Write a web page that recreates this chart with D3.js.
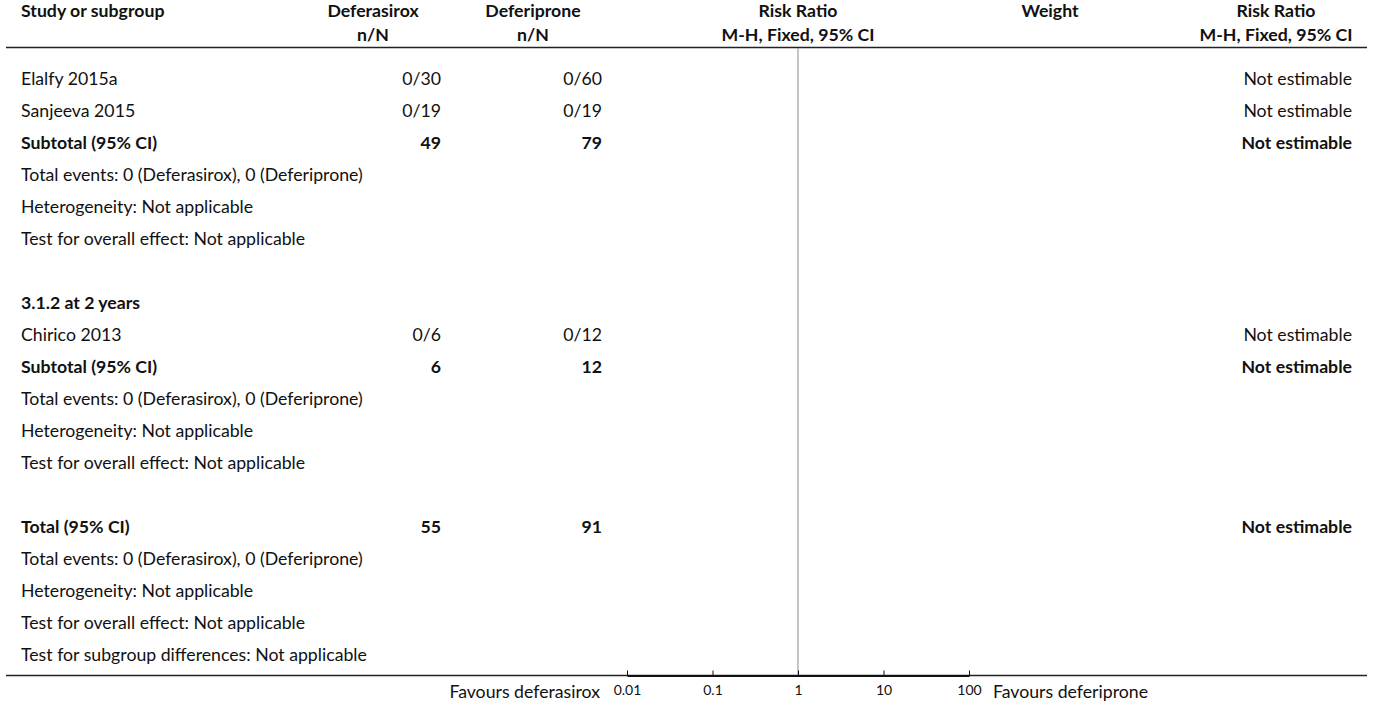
<!DOCTYPE html>
<html>
<head>
<meta charset="utf-8">
<script src="https://cdn.jsdelivr.net/npm/d3@7/dist/d3.min.js"></script>
<style>
  html, body { margin: 0; padding: 0; background: #fff; }
  svg { display: block; }
  text { font-family: "Source Sans Pro", Lato, "Noto Sans", sans-serif; fill: #111; }
</style>
</head>
<body>
<svg id="chart" width="1375" height="707"></svg>
<script>
// ---- data ----
const headerTop = ["Study or subgroup", "Deferasirox", "Deferiprone", "Risk Ratio", "Weight", "Risk Ratio"];
const headerSub = ["", "n/N", "n/N", "M-H, Fixed, 95% CI", "", "M-H, Fixed, 95% CI"];

const rowLabels = [
  "Elalfy 2015a", "Sanjeeva 2015", "Subtotal (95% CI)",
  "Total events: 0 (Deferasirox), 0 (Deferiprone)",
  "Heterogeneity: Not applicable", "Test for overall effect: Not applicable", "",
  "3.1.2 at 2 years", "Chirico 2013", "Subtotal (95% CI)",
  "Total events: 0 (Deferasirox), 0 (Deferiprone)",
  "Heterogeneity: Not applicable", "Test for overall effect: Not applicable", "",
  "Total (95% CI)",
  "Total events: 0 (Deferasirox), 0 (Deferiprone)",
  "Heterogeneity: Not applicable", "Test for overall effect: Not applicable",
  "Test for subgroup differences: Not applicable"
];
const rowDeferasirox = ["0/30", "0/19", "49", "", "", "", "", "", "0/6", "6", "", "", "", "", "55", "", "", "", ""];
const rowDeferiprone = ["0/60", "0/19", "79", "", "", "", "", "", "0/12", "12", "", "", "", "", "91", "", "", "", ""];
const rowWeight = ["", "", "", "", "", "", "", "", "", "", "", "", "", "", "", "", "", "", ""];
const rowEffect = ["Not estimable", "Not estimable", "Not estimable", "", "", "", "", "", "Not estimable", "Not estimable", "", "", "", "", "Not estimable", "", "", "", ""];
const rowBold = [false, false, true, false, false, false, false, true, false, true, false, false, false, false, true, false, false, false, false];

const axisTicks = [0.01, 0.1, 1, 10, 100];
const axisLabelLeft = "Favours deferasirox";
const axisLabelRight = "Favours deferiprone";

// ---- layout ----
const svg = d3.select("#chart");
const fontSize = 17.7;
const rowY = d3.scaleBand().domain(d3.range(rowLabels.length)).range([63, 671]).paddingInner(0);
const xLog = d3.scaleLog().domain([0.01, 100]).range([627, 969]);

const col = { study: 21, e1Right: 441, e2Right: 602, e1Head: 373, e2Head: 533, weight: 1050, effHead: 1276, effRight: 1352 };

// header
const head = svg.append("g").attr("font-size", fontSize).attr("font-weight", "bold");
const headX = [col.study, col.e1Head, col.e2Head, xLog(1), col.weight, col.effHead];
const headAnchor = ["start", "middle", "middle", "middle", "middle", "middle"];
headerTop.forEach((t, i) => {
  head.append("text").attr("x", headX[i]).attr("y", 17).attr("text-anchor", headAnchor[i]).text(t);
});
headerSub.forEach((t, i) => {
  if (!t) return;
  head.append("text").attr("x", headX[i]).attr("y", 41).attr("text-anchor", headAnchor[i]).text(t);
});

// rules
svg.append("line").attr("x1", 6).attr("x2", 1367).attr("y1", 47.5).attr("y2", 47.5).attr("stroke", "#222").attr("stroke-width", 1.5);
svg.append("line").attr("x1", 6).attr("x2", 1367).attr("y1", 675.5).attr("y2", 675.5).attr("stroke", "#222").attr("stroke-width", 1.5);

// null line
svg.append("line").attr("x1", xLog(1)).attr("x2", xLog(1)).attr("y1", 48).attr("y2", 675)
  .attr("stroke", "#8a8a8a").attr("stroke-width", 1);

// rows
const body = svg.append("g").attr("font-size", fontSize);
rowLabels.forEach((lab, i) => {
  const y = rowY(i) + rowY.bandwidth() / 2 + 6;
  const fw = rowBold[i] ? "bold" : "normal";
  if (lab) body.append("text").attr("x", col.study).attr("y", y).attr("font-weight", fw).text(lab);
  if (rowDeferasirox[i]) body.append("text").attr("x", col.e1Right).attr("y", y).attr("text-anchor", "end").attr("font-weight", fw).text(rowDeferasirox[i]);
  if (rowDeferiprone[i]) body.append("text").attr("x", col.e2Right).attr("y", y).attr("text-anchor", "end").attr("font-weight", fw).text(rowDeferiprone[i]);
  if (rowWeight[i]) body.append("text").attr("x", col.weight).attr("y", y).attr("text-anchor", "middle").attr("font-weight", fw).text(rowWeight[i]);
  if (rowEffect[i]) body.append("text").attr("x", col.effRight).attr("y", y).attr("text-anchor", "end").attr("font-weight", fw).text(rowEffect[i]);
});

// axis
const axis = d3.axisBottom(xLog).tickValues(axisTicks).tickFormat(d => String(d)).tickSizeInner(-5).tickSizeOuter(0).tickPadding(10);
const ag = svg.append("g").attr("transform", "translate(0,675.5)").call(axis);
ag.select(".domain").attr("stroke", "#111").attr("stroke-width", 2);
ag.selectAll(".tick line").attr("stroke", "#111");
ag.selectAll(".tick text").attr("font-family", "Lato, sans-serif").attr("font-size", 14).attr("fill", "#111");

svg.append("text").attr("x", 600).attr("y", 698).attr("text-anchor", "end").attr("font-size", fontSize).text(axisLabelLeft);
svg.append("text").attr("x", 993).attr("y", 698).attr("text-anchor", "start").attr("font-size", fontSize).text(axisLabelRight);
</script>
</body>
</html>
